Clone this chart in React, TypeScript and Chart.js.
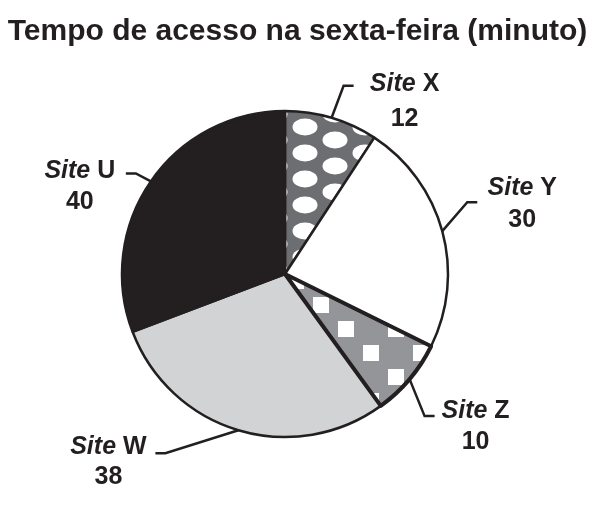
import { useEffect, useRef } from "react";
import { Chart, registerables, type Plugin } from "chart.js";

Chart.register(...registerables);

const chartTitle = "Tempo de acesso na sexta-feira (minuto)";
const labelPrefix = "Site";
const sites = ["X", "Y", "Z", "W", "U"];
const minutes = [12, 30, 10, 38, 40];

const ink = "#231f20";
const font = '"Liberation Sans", Arial, Helvetica, sans-serif';

// leader line bends and text placement for each slice label
const labelLayout = [
  { elbow: [12, -32], side: 1, shift: 51, lift: 5, gap: 35 },
  { elbow: [25, -29], side: 1, shift: 45, lift: -7, gap: 32 },
  { elbow: [15, 37], side: 1, shift: 41, lift: 2, gap: 31 },
  { elbow: [-73, 23], side: -1, shift: 47, lift: 1, gap: 30 },
  { elbow: [-15, -8], side: -1, shift: 46, lift: 5, gap: 31 },
];

const makeTile = (w: number, h: number, draw: (g: CanvasRenderingContext2D) => void) => {
  const c = document.createElement("canvas");
  c.width = w;
  c.height = h;
  const g = c.getContext("2d")!;
  draw(g);
  return g.createPattern(c, "repeat")!;
};

const dotsPattern = () => {
  const p = makeTile(60, 26, (g) => {
    g.fillStyle = "#6d6e71";
    g.fillRect(0, 0, 60, 26);
    g.fillStyle = "#ffffff";
    for (const [cx, cy] of [[15, 13], [45, 0], [45, 26]]) {
      g.beginPath();
      g.ellipse(cx, cy, 12.5, 8.5, 0, 0, Math.PI * 2);
      g.fill();
    }
  });
  p.setTransform(new DOMMatrix().translate(290, 114));
  return p;
};

const squaresPattern = () => {
  const p = makeTile(50, 48, (g) => {
    g.fillStyle = "#939598";
    g.fillRect(0, 0, 50, 48);
    g.fillStyle = "#ffffff";
    g.fillRect(4, 4, 16, 16);
    g.fillRect(29, 28, 16, 16);
  });
  p.setTransform(new DOMMatrix().translate(334, 317));
  return p;
};

const arcProps = ["x", "y", "startAngle", "endAngle", "outerRadius"];

const pieLabels: Plugin<"pie"> = {
  id: "pieLabels",
  afterDatasetsDraw(chart) {
    // heavier outline around the Z slice
    const ctx = chart.ctx;
    const idx = sites.indexOf("Z");
    const arc: any = chart.getDatasetMeta(0).data[idx].getProps(arcProps, true);
    ctx.save();
    ctx.beginPath();
    ctx.moveTo(arc.x, arc.y);
    ctx.arc(arc.x, arc.y, arc.outerRadius, arc.startAngle, arc.endAngle);
    ctx.closePath();
    ctx.lineWidth = 4;
    ctx.lineJoin = "round";
    ctx.strokeStyle = ink;
    ctx.stroke();
    ctx.restore();
  },
  afterDraw(chart) {
    const ctx = chart.ctx;
    ctx.save();
    ctx.fillStyle = ink;
    ctx.strokeStyle = ink;
    ctx.font = `bold 30px ${font}`;
    ctx.textAlign = "center";
    ctx.textBaseline = "alphabetic";
    ctx.fillText(chartTitle, chart.width / 2, 40);

    const italic = `italic bold 25px ${font}`;
    const bold = `bold 25px ${font}`;
    chart.getDatasetMeta(0).data.forEach((el, i) => {
      const a: any = el.getProps(arcProps, true);
      const mid = (a.startAngle + a.endAngle) / 2;
      const sx = a.x + Math.cos(mid) * a.outerRadius;
      const sy = a.y + Math.sin(mid) * a.outerRadius;
      const L = labelLayout[i];
      const ex = sx + L.elbow[0];
      const ey = sy + L.elbow[1];
      const tx = ex + L.side * 10;
      ctx.beginPath();
      ctx.moveTo(sx, sy);
      ctx.lineTo(ex, ey);
      ctx.lineTo(tx, ey);
      ctx.lineWidth = 2.5;
      ctx.lineJoin = "miter";
      ctx.stroke();

      const cx = tx + L.side * L.shift;
      ctx.font = italic;
      const w1 = ctx.measureText(labelPrefix + " ").width;
      ctx.font = bold;
      const w2 = ctx.measureText(sites[i]).width;
      const left = cx - (w1 + w2) / 2;
      ctx.textAlign = "left";
      ctx.font = italic;
      ctx.fillText(labelPrefix, left, ey + L.lift);
      ctx.font = bold;
      ctx.fillText(sites[i], left + w1, ey + L.lift);
      ctx.textAlign = "center";
      ctx.fillText(String(minutes[i]), cx, ey + L.lift + L.gap);
    });
    ctx.restore();
  },
};

export default function App() {
  const canvasRef = useRef<HTMLCanvasElement | null>(null);
  const chartRef = useRef<Chart<"pie"> | null>(null);

  useEffect(() => {
    if (!canvasRef.current) return;
    chartRef.current?.destroy();
    chartRef.current = new Chart(canvasRef.current, {
      type: "pie",
      data: {
        labels: sites.map((s) => `${labelPrefix} ${s}`),
        datasets: [
          {
            data: minutes,
            backgroundColor: [dotsPattern(), "#ffffff", squaresPattern(), "#d1d3d4", ink],
            borderColor: ink,
            borderWidth: 2.5,
            radius: 163,
          },
        ],
      },
      options: {
        responsive: false,
        animation: false,
        layout: { padding: { left: 100, right: 125, top: 100, bottom: 58 } },
        plugins: {
          legend: { display: false },
          tooltip: { enabled: false },
          title: { display: false },
        },
      },
      plugins: [pieLabels],
    });
    return () => {
      chartRef.current?.destroy();
      chartRef.current = null;
    };
  }, []);

  return (
    <div style={{ position: "fixed", left: 0, top: 0, width: 595, height: 506, background: "#fff" }}>
      <canvas ref={canvasRef} width={595} height={506} />
    </div>
  );
}
